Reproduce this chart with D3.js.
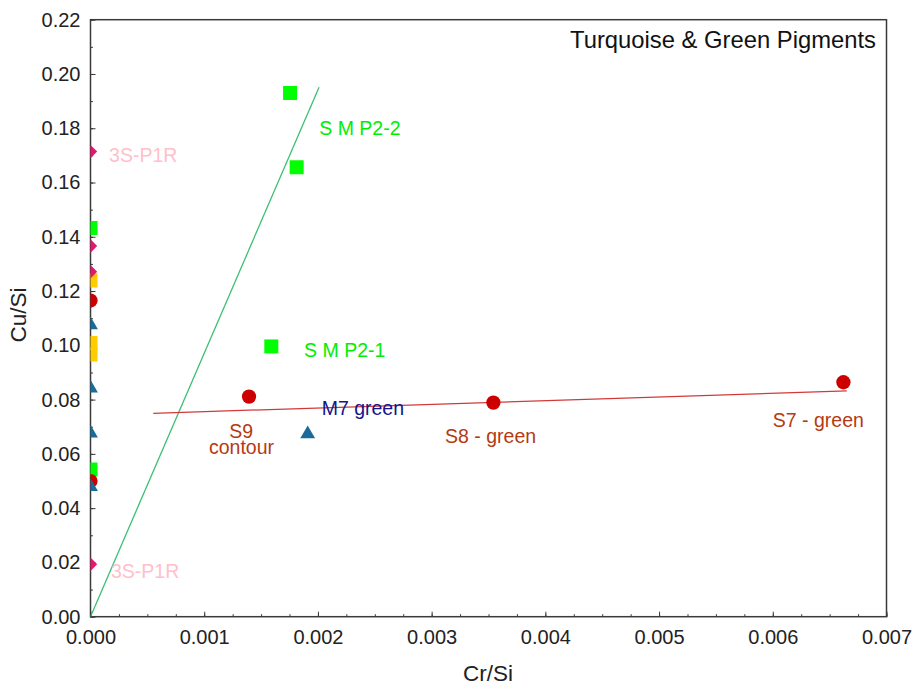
<!DOCTYPE html>
<html>
<head>
<meta charset="utf-8">
<script src="https://cdn.jsdelivr.net/npm/d3@7"></script>
<style>
  body { margin: 0; background: #fff; }
  svg { display: block; font-family: "Liberation Sans", Arial, sans-serif; }
</style>
</head>
<body>
<svg id="chart" width="914" height="689"></svg>
<script>
// ---- Data (Cr/Si, Cu/Si) ----
const pinkDiamonds  = [[0, 0.1714], [0, 0.1366], [0, 0.1271], [0, 0.0193]];
const yellowSquares = [[0, 0.1239], [0, 0.1009], [0, 0.0966]];
const greenSquares  = [[0, 0.1432], [0, 0.0542], [0.001755, 0.1930], [0.001813, 0.1656], [0.00159, 0.0996]];
const redCircles    = [[0, 0.1165], [0, 0.0500], [0.001394, 0.0811], [0.003543, 0.0789], [0.006621, 0.0864]];
const blueTriangles = [[0, 0.1075], [0, 0.0842], [0, 0.0676], [0, 0.0479], [0.00191, 0.0673]];

const redFit   = [[0.000552, 0.07496], [0.006651, 0.0832]];
const greenFit = [[0, 0], [0.00201, 0.1951]];

const xTicks = [0, 0.001, 0.002, 0.003, 0.004, 0.005, 0.006, 0.007];
const yTicks = [0, 0.02, 0.04, 0.06, 0.08, 0.10, 0.12, 0.14, 0.16, 0.18, 0.20, 0.22];

const labelTexts  = ["S M P2-2", "S M P2-1", "3S-P1R", "3S-P1R", "M7 green", "S9", "contour", "S8 - green", "S7 - green"];
const labelX      = [0.002012, 0.001878, 0.000163, 0.00018, 0.002033, 0.001325, 0.001328, 0.003118, 0.0060];
const labelY      = [0.1775, 0.0956, 0.1676, 0.01426, 0.0743, 0.0659, 0.0598, 0.0640, 0.0700];
const labelGroup  = ["green", "green", "pink", "pink", "navy", "brown", "brown", "brown", "brown"];
const labelAnchor = ["start", "start", "start", "start", "start", "middle", "middle", "start", "start"];

const title = "Turquoise & Green Pigments";
const xTitle = "Cr/Si";
const yTitle = "Cu/Si";

// ---- Layout ----
const svg = d3.select("#chart");
const L = 90.5, R = 886.5, T = 19.7, B = 616.7;
const x = d3.scaleLinear().domain([0, 0.007]).range([L, R]);
const y = d3.scaleLinear().domain([0, 0.22]).range([B, T]);
const axisColor = "#3a3a3a";
const colors = {
  green: "#00ee00", pink: "#ffc0cb", navy: "#14148c", brown: "#b53a12"
};

// clip
svg.append("defs").append("clipPath").attr("id", "clip")
  .append("rect").attr("x", L).attr("y", T).attr("width", R - L).attr("height", B - T);

// ---- Axes ----
const xMinor = d3.range(0, 0.007 + 1e-9, 0.00025);
const yMinor = d3.range(0, 0.22 + 1e-9, 0.01);

const xAxisMinor = svg.append("g").attr("transform", `translate(0,${B})`)
  .call(d3.axisBottom(x).tickValues(xMinor).tickSize(-2.5).tickFormat(""));
const xAxis = svg.append("g").attr("transform", `translate(0,${B})`)
  .call(d3.axisBottom(x).tickValues(xTicks).tickSize(-5).tickPadding(13).tickFormat(d3.format(".3f")));
const yAxisMinor = svg.append("g").attr("transform", `translate(${L},0)`)
  .call(d3.axisLeft(y).tickValues(yMinor).tickSize(-2.5).tickFormat(""));
const yAxis = svg.append("g").attr("transform", `translate(${L},0)`)
  .call(d3.axisLeft(y).tickValues(yTicks).tickSize(-5).tickPadding(10).tickFormat(d3.format(".2f")));

[xAxisMinor, xAxis, yAxisMinor, yAxis].forEach(g => {
  g.select(".domain").remove();
  g.selectAll(".tick line").attr("stroke", axisColor).attr("stroke-width", 1);
  g.selectAll("text").attr("fill", "#222").style("font-size", "20px").style("font-family", "'Liberation Sans', Arial, sans-serif");
});

// frame
svg.append("rect").attr("x", L).attr("y", T).attr("width", R - L).attr("height", B - T)
  .attr("fill", "none").attr("stroke", axisColor).attr("stroke-width", 1.5);

// axis titles
svg.append("text").attr("x", 488).attr("y", 681).attr("text-anchor", "middle")
  .style("font-size", "22.5px").attr("fill", "#222").text(xTitle);
svg.append("text").attr("transform", "translate(26,315) rotate(-90)").attr("text-anchor", "middle")
  .style("font-size", "22.5px").attr("fill", "#222").text(yTitle);

// title
svg.append("text").attr("x", 876).attr("y", 48).attr("text-anchor", "end")
  .style("font-size", "23.8px").attr("fill", "#111").text(title);

// ---- Fit lines ----
const line = d3.line().x(d => x(d[0])).y(d => y(d[1]));
const plot = svg.append("g").attr("clip-path", "url(#clip)");
plot.append("path").datum(greenFit).attr("d", line).attr("fill", "none")
  .attr("stroke", "#3cbf74").attr("stroke-width", 1.3);
plot.append("path").datum(redFit).attr("d", line).attr("fill", "none")
  .attr("stroke", "#d23a3a").attr("stroke-width", 1.3);

// ---- Markers ----
function drawSymbols(data, type, size, fill, rotate) {
  plot.selectAll(null).data(data).enter().append("path")
    .attr("d", d3.symbol().type(type).size(size)())
    .attr("transform", d => `translate(${x(d[0])},${y(d[1])})` + (rotate ? ` rotate(${rotate})` : ""))
    .attr("fill", fill);
}
drawSymbols(yellowSquares, d3.symbolSquare, 196, "#ffcc00");
drawSymbols(greenSquares, d3.symbolSquare, 196, "#00ff00");
drawSymbols(redCircles, d3.symbolCircle, 160, "#cc0000");
drawSymbols(blueTriangles, d3.symbolTriangle, 95, "#1a6b97");
drawSymbols(pinkDiamonds, d3.symbolSquare, 90, "#e3186d", 45);

// ---- Labels ----
svg.append("g").selectAll("text").data(labelTexts).enter().append("text")
  .attr("x", (d, i) => x(labelX[i]))
  .attr("y", (d, i) => y(labelY[i]))
  .attr("text-anchor", (d, i) => labelAnchor[i])
  .attr("fill", (d, i) => colors[labelGroup[i]])
  .style("font-size", "19.5px")
  .text(d => d);
</script>
</body>
</html>
